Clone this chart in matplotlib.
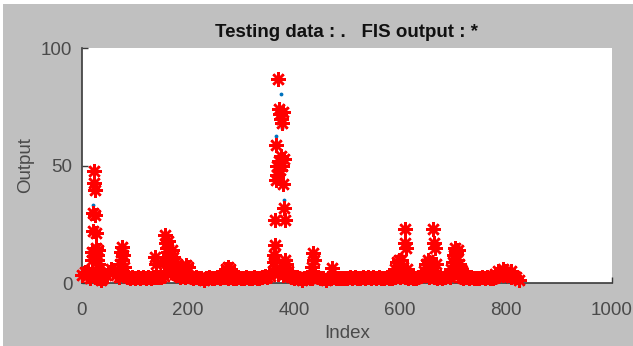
import numpy as np
import matplotlib.pyplot as plt
from matplotlib.patches import Rectangle

index = [
    0, 5, 10, 15, 20, 25, 30, 35, 40, 45,
    50, 55, 60, 65, 70, 75, 80, 85, 90, 95,
    100, 105, 110, 115, 120, 125, 130, 135, 140, 145,
    150, 155, 160, 165, 170, 175, 180, 185, 190, 195,
    200, 205, 210, 215, 220, 225, 230, 235, 240, 245,
    250, 255, 260, 265, 270, 275, 280, 285, 290, 295,
    300, 305, 310, 315, 320, 325, 330, 335, 340, 345,
    350, 355, 360, 365, 370, 375, 380, 385, 390, 395,
    400, 405, 410, 415, 420, 425, 430, 435, 440, 445,
    450, 455, 460, 465, 470, 475, 480, 485, 490, 495,
    500, 505, 510, 515, 520, 525, 530, 535, 540, 545,
    550, 555, 560, 565, 570, 575, 580, 585, 590, 595,
    600, 605, 610, 615, 620, 625, 630, 635, 640, 645,
    650, 655, 660, 665, 670, 675, 680, 685, 690, 695,
    700, 705, 710, 715, 720, 725, 730, 735, 740, 745,
    750, 755, 760, 765, 770, 775, 780, 785, 790, 795,
    800, 805, 810, 815, 820, 825,
    # first spike
    18, 19, 20, 21, 22, 23, 24, 25, 26, 27, 28, 29, 30, 31, 33, 12,
    # small peaks
    72, 73, 74, 75, 76, 78, 80, 137, 139,
    155, 157, 158, 160, 162, 163, 165, 167, 170, 172, 175, 178, 180, 185, 190, 197, 200,
    272, 276, 280,
    # big spike
    362, 363, 364, 365, 366, 367, 368, 369, 370, 371, 372, 373, 374, 375,
    376, 377, 378, 379, 380, 381, 382, 383, 384, 385, 386, 388,
    434, 436, 438, 471,
    590, 595, 598, 600, 603, 606, 609, 610, 612, 614,
    645, 650, 653, 655, 658, 663, 664, 666, 668,
    697, 700, 702, 704, 706, 708, 710, 712, 715, 718,
    780, 785, 790, 795, 800, 805, 810, 815,
]
fis_output = [
    3.5, 4.5, 3, 2, 3.5, 2.5, 2, 1.5, 2, 3.5,
    4.5, 6, 5, 3.5, 2.5, 4, 3.5, 2.5, 2, 2.5,
    2, 2.5, 2, 2.5, 2, 2.5, 2, 2.5, 2.5, 2.5,
    2.5, 3, 5, 8, 6, 4, 3.5, 2.5, 3, 2.5,
    3, 2.5, 2, 2.5, 2, 2, 1.5, 2, 2.5, 2,
    2, 2.5, 2, 2.5, 2.5, 2, 2.5, 2, 2, 2.5,
    2, 2, 2.5, 2, 2, 2.5, 2, 2, 2.5, 3,
    2.5, 3, 5, 6, 4, 5, 3.5, 4, 3.5, 2.5,
    2, 2.5, 2, 1.5, 2, 2.5, 2, 2, 3, 2.5,
    2, 2, 1.5, 2, 2, 2.5, 2, 2, 2, 2,
    2, 2.5, 2, 2.5, 2, 2, 2.5, 2, 2.5, 2,
    2.5, 2, 2.5, 2, 2, 2.5, 2, 2, 2.5, 3,
    2.5, 3, 2.5, 2, 2.5, 2, 2, 2.5, 3, 3.5,
    3.5, 2.5, 3, 2.5, 2, 2.5, 2, 2.5, 3, 2.5,
    4, 5, 3.5, 2.5, 2, 2.5, 2, 2.5, 2, 2,
    2, 2.5, 2, 2.5, 2, 2, 2.5, 3, 4, 3.5,
    4, 3.5, 2.5, 3, 2.5, 1.5,
    10, 13, 22, 30, 47.5, 42.5, 39.5, 29, 21.5, 15, 12, 10, 14, 8, 6, 5,
    8, 6, 13, 15.5, 10, 12, 7, 11, 8,
    9, 20.5, 17, 15, 18, 13, 12, 10, 14, 11, 9, 7, 8, 6, 5, 7.7, 7,
    6, 7, 6,
    12, 9, 16, 27, 44, 58.7, 50, 46, 87, 74, 52, 48, 72, 54,
    70, 68, 50, 42, 73, 53, 31.8, 27, 10, 8, 6, 5,
    7, 12.6, 10, 6.2,
    6, 9, 10, 8, 10, 7, 22.8, 16.9, 15, 6,
    5, 8, 10, 9, 6, 22.8, 16.9, 15, 8,
    6, 9, 12, 14.8, 13, 10, 14, 8, 6, 5,
    4, 5, 4, 6, 5, 4, 5, 3,
]

# testing data: same as FIS output except where the blue dots show
testing_index = [21, 367, 375, 377, 382]
testing_value = [33, 62.7, 80.3, 65.8, 35.5]

x = np.array(index, dtype=float)
fis = np.array(fis_output, dtype=float)
testing = fis.copy()
for i, v in zip(testing_index, testing_value):
    hit = np.where(x == i)[0]
    testing[hit[0]] = v

plt.rcParams['font.family'] = ['Liberation Sans', 'DejaVu Sans']

fig = plt.figure(figsize=(6.33, 3.46), dpi=100, facecolor='#c0c0c0')
# thin white border at top and left of the screenshot
fig.patches.append(Rectangle((0, 0.988), 1, 0.012, transform=fig.transFigure,
                             facecolor='white', edgecolor='none', zorder=-1))
fig.patches.append(Rectangle((0, 0), 0.005, 1, transform=fig.transFigure,
                             facecolor='white', edgecolor='none', zorder=-1))

ax = fig.add_axes([0.1295, 0.182, 0.837, 0.679])
ax.set_facecolor('white')

ax.plot(x, testing, linestyle='none', marker='.', color='#0072BD',
        markersize=3.5, clip_on=False, zorder=2)
ax.plot(x, fis, linestyle='none', marker=(8, 2, 0), color='#ff0000',
        markersize=10.5, markeredgewidth=1.8, clip_on=False, zorder=3)

ax.set_xlim(0, 1000)
ax.set_ylim(0, 100)
ax.set_xticks([0, 200, 400, 600, 800, 1000])
ax.set_yticks([0, 50, 100])
for side in ['top', 'right']:
    ax.spines[side].set_visible(False)
for side in ['left', 'bottom']:
    ax.spines[side].set_color('#3a3a3a')
    ax.spines[side].set_linewidth(1.2)
ax.tick_params(direction='in', length=4, width=1.0, color='#3a3a3a',
               labelsize=13.5, labelcolor='#4a4a4a')
ax.tick_params(axis='x', pad=14)
ax.tick_params(axis='y', pad=7)

ax.set_xlabel('Index', fontsize=13.5, color='#4a4a4a', labelpad=4)
ax.set_ylabel('Output', fontsize=13.5, color='#4a4a4a', labelpad=5)
ax.set_title('Testing data : .   FIS output : *', fontsize=13.5,
             fontweight='bold', color='#111111', pad=8)

fig.savefig('out.png', dpi=100, facecolor=fig.get_facecolor())
